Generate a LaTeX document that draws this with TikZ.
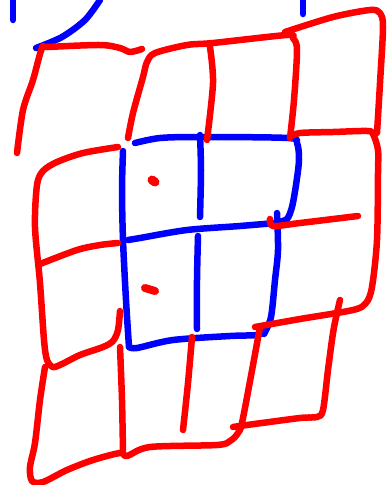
\documentclass[tikz,border=0pt]{standalone}
\begin{document}
\begin{tikzpicture}[x=1pt,y=-1pt,
  rs/.style={draw={rgb,255:red,255;green,0;blue,0},line width=6.5pt,line cap=round,line join=round},
  bs/.style={draw={rgb,255:red,0;green,0;blue,255},line width=6.5pt,line cap=round,line join=round}]
\useasboundingbox (0,0) rectangle (386,485);
% blue strokes
\draw[bs] (13,0) -- (13,20);
\draw[bs] plot[smooth] coordinates {(36,48) (62,37) (85,20) (100,0)};
\draw[bs] (303,0) -- (303,14);
\draw[bs] plot[smooth] coordinates {(135,143) (160,138) (200,137) (288,138) (297,143) (299,160) (296,185) (292,207) (287,219) (278,222)};
\draw[bs] plot[smooth] coordinates {(128,240) (140,238) (187,230) (240,226) (287,222)};
\draw[bs] plot[smooth] coordinates {(123,151) (122,190) (123,240) (126,300) (129,347)};
\draw[bs] plot[smooth] coordinates {(129,347) (137,348) (173,340) (230,336) (257,335) (264,331)};
\draw[bs] plot[smooth] coordinates {(277,213) (278,250) (275,280) (271,317) (264,334)};
\draw[bs] plot[smooth] coordinates {(200,135) (201,170) (200,217)};
\draw[bs] plot[smooth] coordinates {(198,236) (197,280) (197,329)};
% red dots
\draw[rs,line width=9pt] (152,180) -- (155,182);
\draw[rs,line width=8pt] (145,288) -- (155,291);
% red strokes
\draw[rs] plot[smooth] coordinates {(17,153) (23,110) (33,80) (42,48) (48,47) (100,45) (120,48) (130,52) (142,49)};
\draw[rs] plot[smooth] coordinates {(128,138) (133,113) (143,77) (147,62) (155,53) (187,45) (213,43) (287,35) (293,38) (297,50) (294,100) (290,138)};
\draw[rs] plot[smooth] coordinates {(210,47) (213,83) (207,140)};
\draw[rs] plot[smooth] coordinates {(285,32) (333,17) (370,10) (380,13) (383,27) (380,83) (377,133)};
\draw[rs] plot[smooth] coordinates {(290,137) (300,133) (333,132) (367,131) (373,134) (378,150) (378,173) (377,240) (372,287) (366,303) (353,310) (300,319) (255,327)};
\draw[rs] plot[smooth] coordinates {(270,219) (273,226) (300,223) (358,216)};
\draw[rs] plot[smooth] coordinates {(118,147) (83,153) (57,162) (43,171) (37,185) (35,227) (40,283) (44,340) (47,360) (53,367) (62,364) (80,355) (103,347) (113,341) (118,330) (120,311)};
\draw[rs] plot[smooth] coordinates {(118,243) (100,245) (77,250) (40,264)};
\draw[rs] plot[smooth] coordinates {(45,367) (40,400) (35,443) (30,467) (32,481) (43,482) (67,470) (93,460) (120,453) (127,456) (150,447) (217,445) (230,441) (238,433) (243,418) (260,327)};
\draw[rs] plot[smooth] coordinates {(120,347) (122,400) (123,453)};
\draw[rs] plot[smooth] coordinates {(192,337) (188,383) (183,430)};
\draw[rs] plot[smooth] coordinates {(233,427) (247,425) (300,418) (317,417) (323,410) (328,370) (333,333) (337,313) (340,300)};
\end{tikzpicture}
\end{document}
